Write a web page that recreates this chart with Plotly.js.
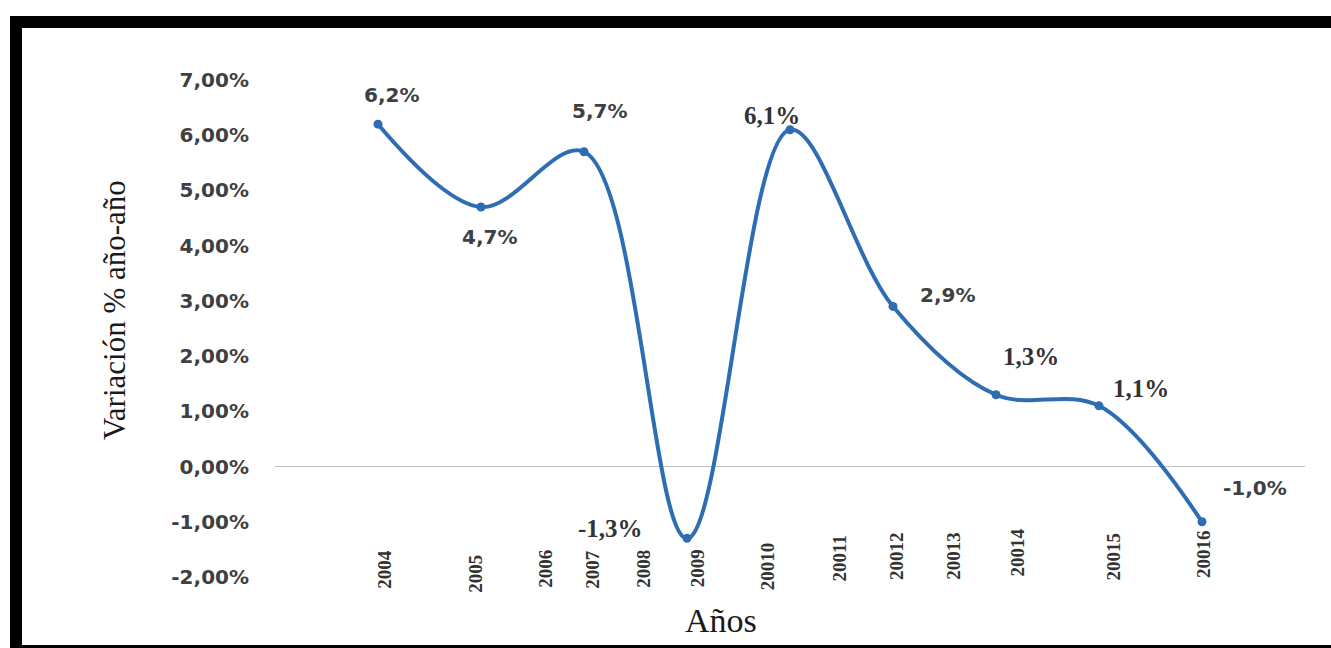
<!DOCTYPE html>
<html>
<head>
<meta charset="utf-8">
<script src="https://cdn.plot.ly/plotly-3.0.1.min.js"></script>
<style>
  html, body { margin: 0; padding: 0; width: 1331px; height: 648px; overflow: hidden; background: #fff; }
  #frame {
    position: absolute; left: 10px; top: 16px; width: 1400px; height: 641px;
    box-sizing: border-box;
    border-top: 12px solid #000; border-left: 12px solid #000; border-bottom: 12px solid #000;
  }
  #chart { position: absolute; left: 0; top: 0; width: 1331px; height: 648px; }
</style>
</head>
<body>
<div id="frame"></div>
<div id="chart"></div>
<script>
// Year-on-year variation (%)
const variation = [6.2, 4.7, 5.7, -1.3, 6.1, 2.9, 1.3, 1.1, -1.0];
// Year labels along the bottom
const yearLabels = ['2004', '2005', '2006', '2007', '2008', '2009', '20010', '20011',
                    '20012', '20013', '20014', '20015', '20016'];
// Y axis ticks (%)
const yTicks = [-2, -1, 0, 1, 2, 3, 4, 5, 6, 7];

// Placement of the year labels (x in axis units, lift in px above the plot bottom)
const yearLabelX = [0.06, 0.94, 1.62, 2.08, 2.57, 3.10, 3.78, 4.48, 5.03, 5.58, 6.20, 7.14, 8.01];
const yearLabelLift = [29, 24, 29, 29, 29, 30, 37, 44, 47, 47, 50, 47, 49];

// Offsets of the value labels from their points (px, right / down)
const valueLabelDx = [13, 8, 15, -77, -18, 54, 35, 42, 53];
const valueLabelDy = [-29, 30, -41, -10, -14, -11, -38, -17, -34];
const valueLabelSerif = [false, false, false, true, true, false, true, true, false];

const BLUE = '#2e6db4';
const SANS = 'DejaVu Sans, Verdana, sans-serif';
const SERIF = 'Liberation Serif, Times New Roman, serif';

const fmt = (v, d) => v.toFixed(d).replace('.', ',') + '%';
const xs = variation.map((_, i) => i);

const trace = {
  type: 'scatter',
  mode: 'lines+markers',
  x: xs,
  y: variation,
  line: { color: BLUE, width: 4, shape: 'spline', smoothing: 1 },
  marker: { color: BLUE, size: 9 },
  hoverinfo: 'skip'
};

const annotations = [];

variation.forEach((v, i) => {
  const serif = valueLabelSerif[i];
  annotations.push({
    x: i, y: v, xref: 'x', yref: 'y',
    text: serif ? '<b>' + fmt(v, 1) + '</b>' : fmt(v, 1),
    showarrow: false,
    xanchor: 'center', yanchor: 'middle',
    xshift: valueLabelDx[i], yshift: -valueLabelDy[i],
    font: serif ? { family: SERIF, size: 25, color: '#333333' }
                : { family: SANS, size: 20, color: '#404040', weight: 'bold' }
  });
});

yearLabels.forEach((label, i) => {
  annotations.push({
    x: yearLabelX[i], y: 0, xref: 'x', yref: 'paper',
    text: '<b>' + label + '</b>',
    showarrow: false,
    textangle: -90,
    xanchor: 'center', yanchor: 'top',
    yshift: yearLabelLift[i],
    font: { family: SERIF, size: 19, color: '#333333' }
  });
});

// Axis titles
annotations.push({
  x: 0.433, y: 0, xref: 'paper', yref: 'paper',
  text: 'Años', showarrow: false,
  xanchor: 'center', yanchor: 'middle', yshift: -43,
  font: { family: SERIF, size: 34, color: '#1a1a1a' }
});
annotations.push({
  x: 0, y: 0.537, xref: 'paper', yref: 'paper',
  text: 'Variación % año-año', showarrow: false,
  textangle: -90,
  xanchor: 'center', yanchor: 'middle', xshift: -161,
  font: { family: SERIF, size: 31, color: '#1a1a1a' }
});

const layout = {
  width: 1331, height: 648,
  margin: { l: 275, r: 26, t: 80, b: 71 },
  paper_bgcolor: 'rgba(0,0,0,0)',
  plot_bgcolor: 'rgba(0,0,0,0)',
  showlegend: false,
  xaxis: {
    range: [-1, 9],
    showgrid: false, zeroline: false, showline: false,
    showticklabels: false, ticks: ''
  },
  yaxis: {
    range: [-2, 7],
    tickvals: yTicks,
    ticktext: yTicks.map(v => fmt(v, 2)),
    showgrid: false, showline: false, ticks: '',
    zeroline: true, zerolinecolor: '#c0c0c0', zerolinewidth: 1.2,
    ticklabelstandoff: 25,
    tickfont: { family: SANS, size: 20, color: '#404040', weight: 'bold' }
  },
  annotations: annotations
};

Plotly.newPlot('chart', [trace], layout, { displayModeBar: false, staticPlot: true });
</script>
</body>
</html>
